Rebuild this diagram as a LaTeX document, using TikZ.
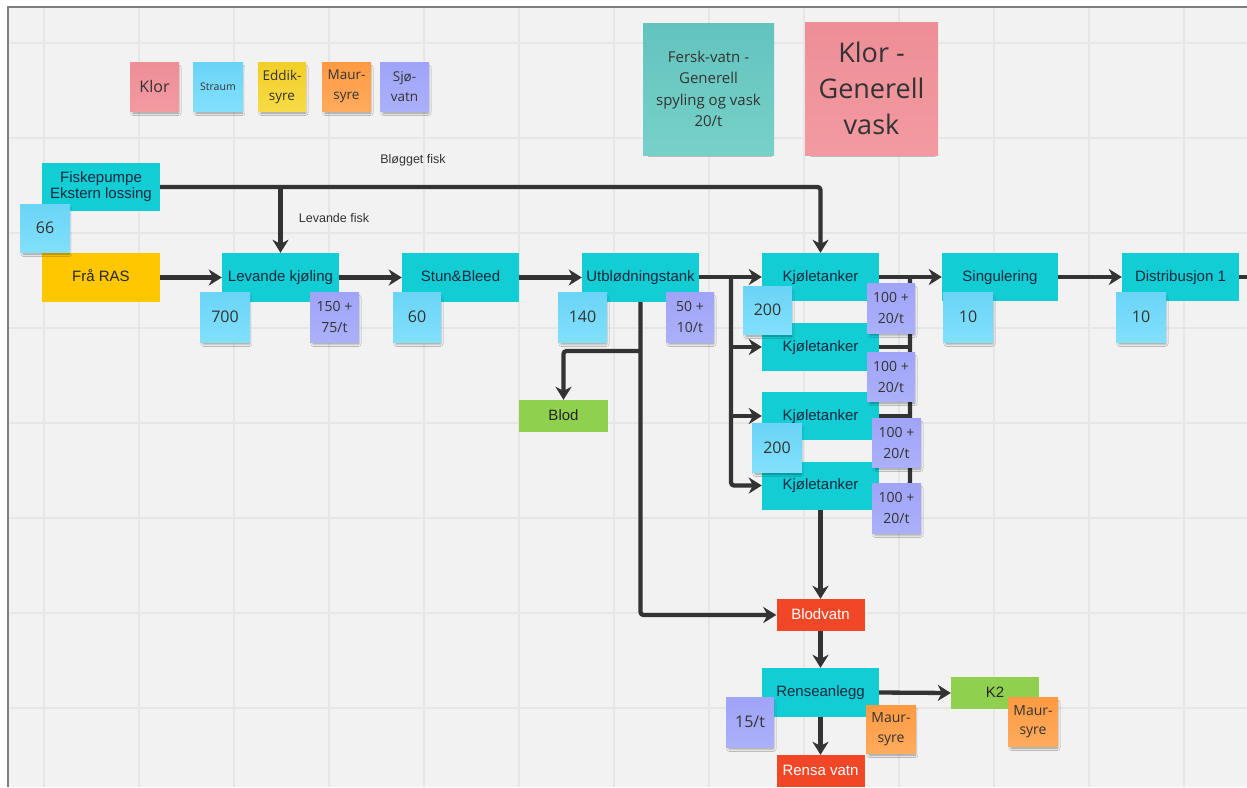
\documentclass[tikz,border=0pt]{standalone}
\usepackage{fontspec}
\setmainfont{Liberation Sans}
\newfontfamily\notefont{Open Sans}
\usetikzlibrary{arrows.meta,shadows.blur}

\definecolor{boardbg}{HTML}{F2F2F2}
\definecolor{gridline}{HTML}{E6E6E6}
\definecolor{boardframe}{HTML}{7F7F7F}
\definecolor{wire}{HTML}{333333}
\definecolor{procfill}{HTML}{12CDD4}
\definecolor{procText}{HTML}{14293F}
\definecolor{rasfill}{HTML}{FFC700}
\definecolor{greenfill}{HTML}{8FD14F}
\definecolor{redfill}{HTML}{F24726}
\definecolor{noteText}{HTML}{333333}
\definecolor{notePinkA}{HTML}{EE8E97}
\definecolor{notePinkB}{HTML}{F39AA1}
\definecolor{noteBlueA}{HTML}{6AD4F6}
\definecolor{noteBlueB}{HTML}{82E0FC}
\definecolor{noteYelA}{HTML}{F2CF28}
\definecolor{noteYelB}{HTML}{F7DA45}
\definecolor{noteOrA}{HTML}{FF9A42}
\definecolor{noteOrB}{HTML}{FFAB5E}
\definecolor{noteLavA}{HTML}{A0A4F8}
\definecolor{noteLavB}{HTML}{ABB0FA}
\definecolor{noteTealA}{HTML}{62C4BD}
\definecolor{noteTealB}{HTML}{78D0CA}

\tikzset{
  procbox/.style={rectangle, inner sep=0pt, fill=procfill, text=procText,
    minimum width=117pt, minimum height=49pt, align=center,
    font=\fontsize{15}{16}\selectfont},
  oneline/.style={text height=10.5pt, text depth=2.5pt},
  smallbox/.style={rectangle, inner sep=0pt, minimum width=88pt,
    minimum height=32pt, oneline, font=\fontsize{15}{16}\selectfont},
  note/.style={rectangle, inner sep=0pt, align=center, text=noteText,
    minimum width=49pt, minimum height=49pt,
    font=\notefont\fontsize{14}{21}\selectfont,
    blur shadow={shadow xshift=1.5pt, shadow yshift=-4pt, shadow scale=0.93,
      shadow blur radius=2.5pt, shadow opacity=40}},
  notebig/.style={note, font=\notefont\fontsize{16}{21}\selectfont},
  pinknote/.style={top color=notePinkA, bottom color=notePinkB},
  bluenote/.style={top color=noteBlueA, bottom color=noteBlueB},
  yellownote/.style={top color=noteYelA, bottom color=noteYelB},
  orangenote/.style={top color=noteOrA, bottom color=noteOrB},
  lavnote/.style={top color=noteLavA, bottom color=noteLavB},
  tealnote/.style={top color=noteTealA, bottom color=noteTealB},
  wireline/.style={draw=wire, line width=4.3pt, rounded corners=3pt, line join=round},
  flow/.style={wireline, -{Stealth[length=13pt,width=16pt,inset=4pt]}},
  flowlabel/.style={text=noteText, font=\fontsize{12.5}{14}\selectfont}
}

\begin{document}
\begin{tikzpicture}[x=1pt,y=-1pt]
\useasboundingbox (0,0) rectangle (1247,787);
% board background with grid
\fill[white] (0,0) rectangle (1247,787);
\fill[boardbg] (8,7) rectangle (1247,787);
\foreach \gx in {44,139,...,1240} \draw[gridline, line width=1.5pt] (\gx,7) -- (\gx,787);
\foreach \gy in {43,138,...,787} \draw[gridline, line width=1.5pt] (8,\gy) -- (1247,\gy);
\draw[boardframe, line width=2pt] (7.5,787) -- (7.5,6.5) -- (1247,6.5);

% process steps
\node[procbox, minimum width=118pt, minimum height=48pt] (fp) at (101,187) {Fiskepumpe\\Ekstern lossing};
\node[procbox, oneline, minimum width=118pt, fill=rasfill, text=black!85] (ras) at (101,277.5) {Frå RAS};
\node[procbox, oneline] (lk) at (280.5,277.5) {Levande kjøling};
\node[procbox, oneline] (sb) at (460.5,277.5) {Stun\&Bleed};
\node[procbox, oneline] (ut) at (640.5,277.5) {Utblødningstank};
\node[procbox, oneline, minimum height=48pt] (k1) at (820.5,277) {Kjøletanker};
\node[procbox, oneline, minimum height=48pt] (k2) at (820.5,347) {Kjøletanker};
\node[procbox, oneline, minimum height=48pt] (k3) at (820.5,416) {Kjøletanker};
\node[procbox, oneline, minimum height=48pt] (k4) at (820.5,485.5) {Kjøletanker};
\node[procbox, oneline, minimum width=116pt, minimum height=48pt] (sing) at (1000,277) {Singulering};
\node[procbox, oneline, minimum height=48pt] (dist) at (1180.5,277) {Distribusjon 1};
\node[smallbox, minimum width=89pt, fill=greenfill, text=black!85] (blod) at (563.5,416) {Blod};
\node[smallbox, fill=redfill, text=white] (bv) at (820.5,615) {Blodvatn};
\node[procbox, oneline] (rens) at (820.5,692.5) {Renseanlegg};
\node[smallbox, fill=redfill, text=white] (rv) at (820.5,771) {Rensa vatn};
\node[smallbox, fill=greenfill, text=black!85] (ktwo) at (995,693) {K2};
\coordinate (offright) at (1250,277);

% connectors
\coordinate (busL) at (731,277);
\coordinate (busR) at (910,277);
\draw[flow] (fp.east) -- (fp.east -| k1.north) -- (k1.north);
\draw[flow] (fp.east -| lk.north) -- (lk.north);
\draw[flow] (ras.east) -- (lk.west);
\draw[flow] (lk.east) -- (sb.west);
\draw[flow] (sb.east) -- (ut.west);
\draw[flow] (ut.east |- k1.west) -- (k1.west);
\draw[flow] (busL) |- (k4.west);
\draw[flow] (k2.west -| busL) -- (k2.west);
\draw[flow] (k3.west -| busL) -- (k3.west);
\draw[wireline] (k4.east) -| (busR);
\draw[wireline] (k2.east) -- (k2.east -| busR);
\draw[wireline] (k3.east) -- (k3.east -| busR);
\draw[flow] (k1.east) -- (sing.west);
\draw[flow] (sing.east) -- (dist.west);
\draw[wireline] (dist.east) -- (offright);
\draw[flow] (ut.south) -- (ut.south |- bv.west) -- (bv.west);
\coordinate (bloodsplit) at (640.5,351);
\draw[flow] (bloodsplit) -- (bloodsplit -| blod.north) -- (blod.north);
\draw[flow] (k4.south) -- (bv.north);
\draw[flow] (bv.south) -- (rens.north);
\draw[flow] (rens.south) -- (rv.north);
\draw[flow] (rens.east) -- (ktwo.west);

\node[flowlabel] (lblB) at (413,160) {Bløgget fisk};
\node[flowlabel] (lblL) at (334,218) {Levande fisk};

% legend notes
\node[note, pinknote, font=\notefont\fontsize{16}{20}\selectfont] (lgKlor) at (154.5,86.5) {Klor};
\node[note, bluenote, minimum width=50pt, font=\notefont\fontsize{10.5}{13}\selectfont] (lgStraum) at (218,86.5) {Straum};
\node[note, yellownote, minimum width=48pt, font=\notefont\fontsize{13.5}{20}\selectfont] (lgEddik) at (282,86.5) {Eddik-\\syre};
\node[note, orangenote, font=\notefont\fontsize{13.5}{20}\selectfont] (lgMaur) at (346.5,86.5) {Maur-\\syre};
\node[note, lavnote, font=\notefont\fontsize{13.5}{20}\selectfont] (lgSjo) at (404.5,86.5) {Sjø-\\vatn};

% big notes
\node[note, tealnote, minimum width=131pt, minimum height=132pt, font=\notefont\fontsize{15}{21.3}\selectfont] (fersk) at (708.5,89) {Fersk-vatn -\\Generell\\spyling og vask\\20/t};
\node[note, pinknote, minimum width=133pt, minimum height=133pt, font=\notefont\fontsize{27}{36}\selectfont] (klorG) at (871.5,88.5) {Klor -\\Generell\\vask};

% quantity notes
\node[notebig, bluenote, minimum width=50pt, minimum height=48pt] (n66) at (45,228) {66};
\node[notebig, bluenote, minimum width=50pt, minimum height=50pt] (n700) at (225,317) {700};
\node[note, lavnote, minimum height=50pt] (n150) at (334.5,317) {150 +\\75/t};
\node[notebig, bluenote, minimum width=48pt, minimum height=50pt] (n60) at (417,317) {60};
\node[notebig, bluenote, minimum height=50pt] (n140) at (582.5,317) {140};
\node[note, lavnote, minimum width=48pt, minimum height=50pt] (n50) at (690,317) {50 +\\10/t};
\node[notebig, bluenote, minimum height=48pt] (n200a) at (767.5,310) {200};
\node[note, lavnote, minimum width=48pt, minimum height=50pt] (q1) at (891,308) {100 +\\20/t};
\node[note, lavnote, minimum width=48pt] (q2) at (891,376.5) {100 +\\20/t};
\node[notebig, bluenote, minimum width=50pt] (n200b) at (777,447.5) {200};
\node[note, lavnote] (q3) at (896.5,442.5) {100 +\\20/t};
\node[note, lavnote, minimum height=50pt] (q4) at (896.5,508) {100 +\\20/t};
\node[notebig, bluenote, minimum width=50pt, minimum height=50pt] (n10a) at (968,317) {10};
\node[notebig, bluenote, minimum width=50pt, minimum height=50pt] (n10b) at (1141,317) {10};
\node[notebig, lavnote, minimum width=48pt, minimum height=50pt] (n15) at (750,722) {15/t};
\node[note, orangenote, minimum width=50pt, minimum height=48pt, font=\notefont\fontsize{14}{19.5}\selectfont] (m1) at (891,729) {Maur-\\syre};
\node[note, orangenote, minimum width=50pt, font=\notefont\fontsize{14}{19.5}\selectfont] (m2) at (1033,721.5) {Maur-\\syre};
\end{tikzpicture}
\end{document}
